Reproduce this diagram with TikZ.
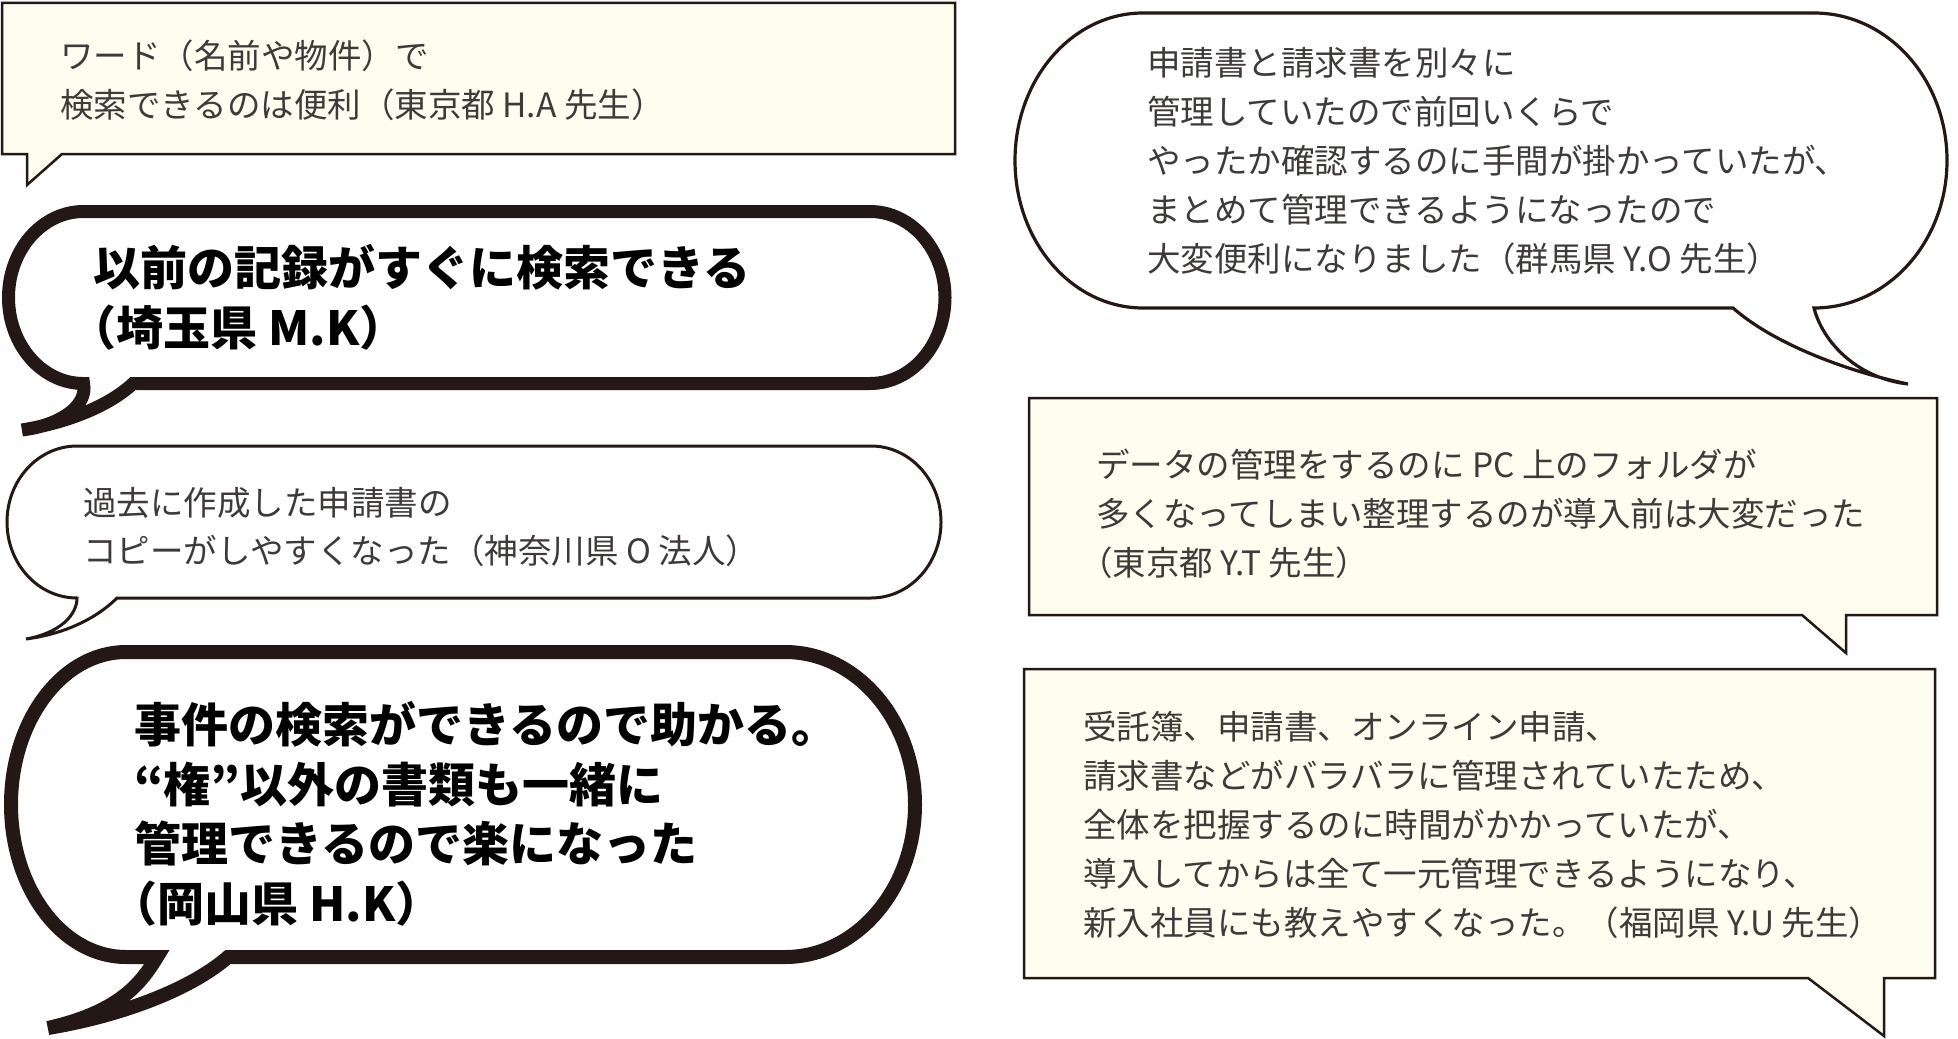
\documentclass[tikz,border=0pt]{standalone}
\usepackage{fontspec}
\newfontfamily\jp{Noto Sans CJK JP}
\definecolor{ink}{HTML}{231815}
\definecolor{txtc}{HTML}{3E3A39}
\definecolor{cream}{HTML}{FFFDEF}
\newcommand{\lp}{\kern-.5em（}
\begin{document}
\begin{tikzpicture}[x=1pt,y=-1pt,
  box/.style={draw=ink, line width=2.5pt, fill=cream},
  thinbub/.style={draw=ink, line width=3pt, fill=white},
  thickbub/.style={draw=ink, line width=14pt, fill=white},
  txt/.style={anchor=west, inner sep=0pt, align=left, text=txtc, font=\jp\fontsize{33.5}{48.8}\selectfont},
  btxt/.style={anchor=west, inner sep=0pt, align=left, text=black, font=\jp\bfseries\fontsize{47}{60}\selectfont},
]
\fill[white] (0,0) rectangle (1958,1038);
\useasboundingbox (0,0) rectangle (1958,1038);

% Box A
\draw[box] (2,3) -- (955,3) -- (955,154) -- (62,154) -- (27,185) -- (27,154) -- (2,154) -- cycle;
\node[txt] (ta) at (60,80) {ワード（名前や物件）で\\検索できるのは便利（東京都 H.A 先生）};

% Bubble B
\draw[thickbub, line width=13pt] (133,383.5) -- (870,383.5)
  .. controls (911.4,383.5) and (945,345) .. (945,297.5)
  .. controls (945,250) and (911.4,211.5) .. (870,211.5) -- (83.5,211.5)
  .. controls (42.1,211.5) and (8.5,250) .. (8.5,297.5)
  .. controls (8.5,345) and (42.1,383.5) .. (83.5,383.5)
  .. controls (88,405) and (62,425) .. (22,430)
  .. controls (70,422) and (110,405) .. (133,383.5) -- cycle;
\node[btxt] (tb) at (93,297.5) {以前の記録がすぐに検索できる\\\lp 埼玉県 M.K）};

% Bubble C
\draw[thinbub] (117,598) -- (871,598)
  .. controls (909.7,598) and (941,564) .. (941,522)
  .. controls (941,480) and (909.7,446) .. (871,446) -- (77,446)
  .. controls (38.3,446) and (7,480) .. (7,522)
  .. controls (7,564) and (38.3,598) .. (77,598)
  .. controls (77,615) and (60,633) .. (26,639)
  .. controls (65,634) and (97,618) .. (117,598) -- cycle;
\node[txt] (tc) at (83,527) {過去に作成した申請書の\\コピーがしやすくなった（神奈川県 O 法人）};

% Bubble D
\draw[thickbub] (228,957) -- (785,957)
  .. controls (856.8,957) and (915,888.7) .. (915,804.5)
  .. controls (915,720.3) and (856.8,652) .. (785,652) -- (126,652)
  .. controls (62.5,652) and (11,720.3) .. (11,804.5)
  .. controls (11,888.7) and (62.5,957) .. (126,957) -- (157,957)
  .. controls (140,985) and (118,1012) .. (48,1028)
  .. controls (120,1016) and (190,990) .. (228,957) -- cycle;
\node[btxt, font=\jp\bfseries\fontsize{47}{59.5}\selectfont] (td) at (134,814) {事件の検索ができるので助かる。\\“権”以外の書類も一緒に\\管理できるので楽になった\\\lp 岡山県 H.K）};

% Bubble E
\draw[thinbub, line width=3.2pt] (1733,308) -- (1143,308)
  .. controls (1072.3,308) and (1015,242) .. (1015,160.5)
  .. controls (1015,79) and (1072.3,13) .. (1143,13) -- (1814,13)
  .. controls (1887.5,13) and (1947,79) .. (1947,160.5)
  .. controls (1947,242) and (1887.5,308) .. (1814,308)
  .. controls (1822,340) and (1855,378) .. (1908,384)
  .. controls (1850,372) and (1775,345) .. (1733,308) -- cycle;
\node[txt] (te) at (1147,161) {申請書と請求書を別々に\\管理していたので前回いくらで\\やったか確認するのに手間が掛かっていたが、\\まとめて管理できるようになったので\\大変便利になりました（群馬県 Y.O 先生）};

% Box F
\draw[box] (1029,398) -- (1937,398) -- (1937,615) -- (1846,615) -- (1846,653) -- (1802,615) -- (1029,615) -- cycle;
\node[txt] (tf) at (1096,514) {データの管理をするのに PC 上のフォルダが\\多くなってしまい整理するのが導入前は大変だった\\\lp 東京都 Y.T 先生）};

% Box G
\draw[box] (1024,669) -- (1935,669) -- (1935,978) -- (1884,978) -- (1884,1036) -- (1808,978) -- (1024,978) -- cycle;
\node[txt] (tg) at (1083,825) {受託簿、申請書、オンライン申請、\\請求書などがバラバラに管理されていたため、\\全体を把握するのに時間がかかっていたが、\\導入してからは全て一元管理できるようになり、\\新入社員にも教えやすくなった。（福岡県 Y.U 先生）};
\end{tikzpicture}
\end{document}
